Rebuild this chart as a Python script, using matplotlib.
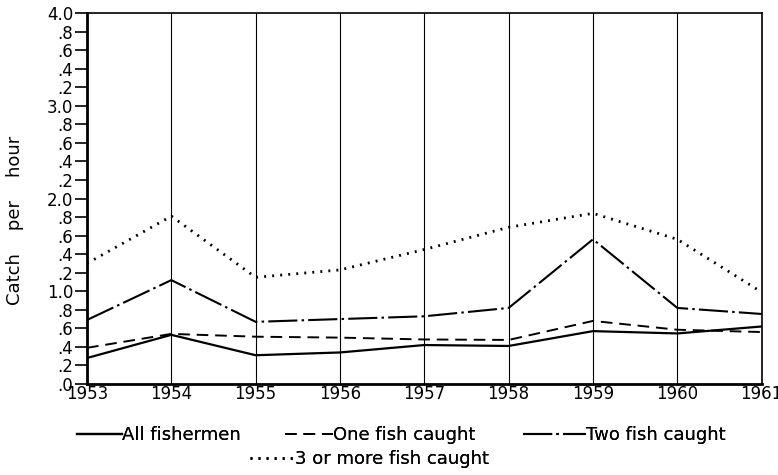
import matplotlib
matplotlib.use("Agg")
import matplotlib.pyplot as plt

years = [1953, 1954, 1955, 1956, 1957, 1958, 1959, 1960, 1961]
all_fishermen = [0.28, 0.53, 0.31, 0.34, 0.42, 0.41, 0.57, 0.545, 0.62]
one_fish = [0.39, 0.54, 0.51, 0.50, 0.48, 0.475, 0.68, 0.585, 0.56]
two_fish = [0.69, 1.12, 0.67, 0.70, 0.73, 0.82, 1.56, 0.82, 0.755]
three_plus = [1.30, 1.81, 1.15, 1.23, 1.45, 1.69, 1.84, 1.56, 0.99]

ytick_vals = [i * 0.2 for i in range(21)]
ytick_labels = ['.0', '.2', '.4', '.6', '.8', '1.0', '.2', '.4', '.6', '.8',
                '2.0', '.2', '.4', '.6', '.8', '3.0', '.2', '.4', '.6', '.8', '4.0']

plt.rcParams['font.family'] = 'DejaVu Sans'

fig = plt.figure(figsize=(7.78, 4.75), dpi=100)
ax = fig.add_axes([0.1118, 0.1916, 0.8672, 0.781])

l1, = ax.plot(years, all_fishermen, color='black', lw=1.6, label='All fishermen')
l2, = ax.plot(years, one_fish, color='black', lw=1.4, dashes=(6, 3.5), label='One fish caught')
l3, = ax.plot(years, two_fish, color='black', lw=1.5, dashes=(14, 2, 1.2, 2), label='Two fish caught')
l4, = ax.plot(years, three_plus, color='black', lw=2.0, dashes=(0.7, 2.2), label='3 or more fish caught')

ax.set_xlim(1953, 1961)
ax.set_ylim(0, 4.0)
ax.set_xticks(years)
ax.set_xticklabels([str(y) for y in years])
ax.set_yticks(ytick_vals)
ax.set_yticklabels(ytick_labels)
ax.tick_params(axis='y', direction='out', length=9, width=1.2, labelsize=12, pad=1)
ax.tick_params(axis='x', length=0, labelsize=12, pad=1)
ax.grid(axis='x', color='black', lw=0.8)
for s in ax.spines.values():
    s.set_linewidth(1.2)
ax.spines['left'].set_linewidth(2)
ax.spines['bottom'].set_linewidth(2)

ax.set_ylabel('Catch    per    hour', fontsize=13)
ax.yaxis.set_label_coords(-0.093, 0.44)

# legend entries placed one by one, like the printed key
entries = [(l1, 0.099, 0.084, 2.5), (l2, 0.366, 0.084, 2.65),
           (l3, 0.672, 0.084, 3.5), (l4, 0.321, 0.034, 2.5)]
for handle, x, y, hl in entries:
    leg = fig.legend(handles=[handle], loc='center left', bbox_to_anchor=(x, y), frameon=False,
                     fontsize=13, handlelength=hl, handletextpad=0.0,
                     borderaxespad=0, borderpad=0)
    fig.add_artist(leg)

fig.savefig('out.png', dpi=100)
